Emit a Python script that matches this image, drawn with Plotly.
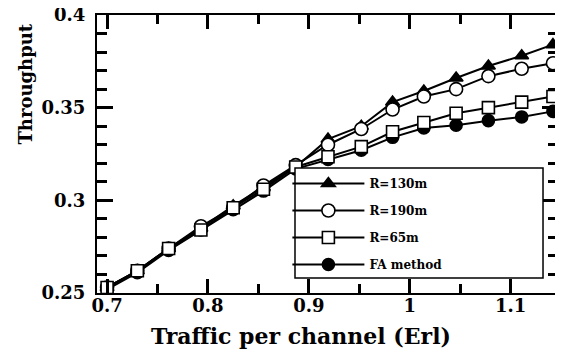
import plotly.graph_objects as go

# ---- data ----
traffic = [0.700, 0.730, 0.761, 0.793, 0.825, 0.855, 0.887, 0.919,
           0.952, 0.983, 1.014, 1.046, 1.078, 1.111, 1.142]
r130 = [0.253, 0.262, 0.274, 0.285, 0.297, 0.307, 0.318, 0.333,
        0.340, 0.353, 0.359, 0.366, 0.3725, 0.378, 0.384]
r190 = [0.253, 0.262, 0.274, 0.286, 0.296, 0.308, 0.319, 0.330,
        0.3385, 0.349, 0.356, 0.360, 0.367, 0.371, 0.374]
r65 = [0.253, 0.262, 0.274, 0.284, 0.296, 0.306, 0.318, 0.3235,
       0.329, 0.337, 0.342, 0.347, 0.350, 0.353, 0.356]
fa = [0.252, 0.261, 0.273, 0.284, 0.295, 0.305, 0.317, 0.322,
      0.327, 0.334, 0.339, 0.3405, 0.343, 0.345, 0.348]

series_names = ["R=130m", "R=190m", "R=65m", "FA method"]
x_tickvals = [0.7, 0.8, 0.9, 1.0, 1.1]
x_ticktext = ["0.7", "0.8", "0.9", "1", "1.1"]
y_tickvals = [0.25, 0.3, 0.35, 0.4]
y_ticktext = ["0.25", "0.3", "0.35", "0.4"]
x_title = "Traffic per channel (Erl)"
y_title = "Throughput"

FONT = "DejaVu Serif"

fig = go.Figure()

specs = [
    (fa, series_names[3], "circle", "black", 4, 12),
    (r130, series_names[0], "triangle-up", "black", 1, 12),
    (r190, series_names[1], "circle", "white", 2, 13),
    (r65, series_names[2], "square", "white", 3, 12),
]
for vals, name, sym, fill, rank, sz in specs:
    fig.add_trace(go.Scatter(
        x=traffic, y=vals, name=name, mode="lines+markers",
        line=dict(color="black", width=2),
        marker=dict(symbol=sym, size=sz, color=fill,
                    line=dict(color="black", width=1.6)),
        legendrank=rank, legendgroup=name,
    ))

# page body has an 8px margin, so the figure is drawn 8px smaller
fig.update_layout(
    template="none",
    width=555, height=343,
    margin=dict(l=89, r=5, t=7, b=58),
    paper_bgcolor="white", plot_bgcolor="white",
    font=dict(family=FONT, color="black"),
    legend=dict(
        x=0.413, y=0.446, xanchor="left", yanchor="top",
        bgcolor="rgba(0,0,0,0)", borderwidth=0,
        font=dict(family=FONT, size=12, color="black", weight="bold"),
        tracegroupgap=8, itemwidth=72,
        traceorder="grouped",
    ),
    showlegend=True,
    shapes=[dict(
        type="rect", xref="paper", yref="paper",
        x0=0.4295, x1=0.9675, y0=0.054, y1=0.4496,
        line=dict(color="black", width=1.5), fillcolor="white",
        layer="above",
    )],
)

fig.update_xaxes(
    range=[0.69, 1.147],
    tickmode="array", tickvals=x_tickvals, ticktext=x_ticktext,
    ticks="inside", ticklen=14, tickwidth=3, tickcolor="black",
    minor=dict(tickmode="linear", tick0=0.7, dtick=0.05, ticks="inside",
               ticklen=9, tickwidth=3, tickcolor="black"),
    showline=True, linecolor="black", linewidth=2, mirror="ticks",
    showgrid=False, zeroline=False,
    tickfont=dict(family=FONT, size=18, color="black", weight="bold"),
    ticklabelstandoff=-5,
)
fig.update_yaxes(
    range=[0.25, 0.4],
    tickmode="array", tickvals=y_tickvals, ticktext=y_ticktext,
    ticks="inside", ticklen=16, tickwidth=3, tickcolor="black",
    minor=dict(tickmode="linear", tick0=0.25, dtick=0.01, ticks="inside",
               ticklen=10, tickwidth=3, tickcolor="black"),
    showline=True, linecolor="black", linewidth=2, mirror="ticks",
    showgrid=False, zeroline=False,
    tickfont=dict(family=FONT, size=18, color="black", weight="bold"),
    ticklabelstandoff=6, ticklabeloverflow="allow",
)

fig.add_annotation(
    text=x_title, xref="paper", yref="paper", x=0.4425, y=-0.155,
    xanchor="center", yanchor="middle", showarrow=False,
    font=dict(family=FONT, size=22, color="black", weight="bold"),
)
fig.add_annotation(
    text=y_title, textangle=-90,
    xref="paper", yref="paper", x=-0.156, y=0.75,
    xanchor="center", yanchor="middle", showarrow=False,
    font=dict(family=FONT, size=18, color="black", weight="bold"),
)

fig.write_html("out.html")
